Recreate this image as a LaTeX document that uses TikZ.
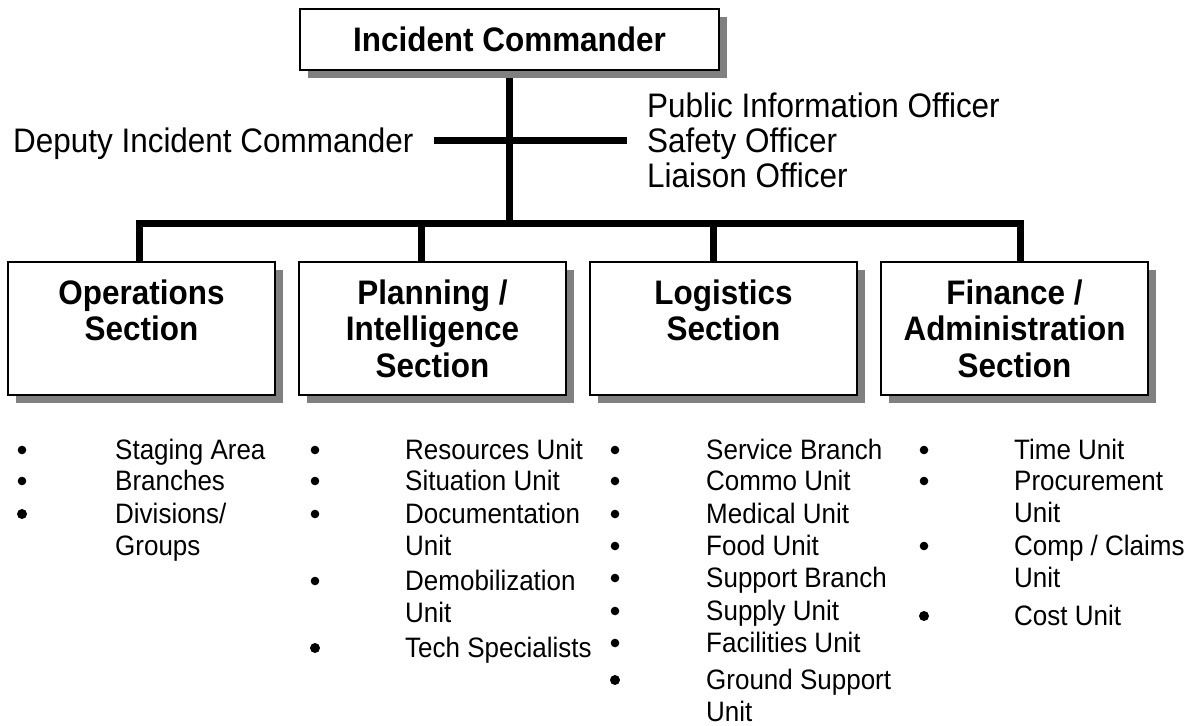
\documentclass[tikz,border=0pt]{standalone}
\usepackage{fontspec}
\setmainfont{Liberation Sans}[FakeStretch=0.925]
\definecolor{shade}{HTML}{808080}
\newcommand\tstrut{\rule{0pt}{22pt}}
\newcommand\sstrut{\rule{0pt}{27pt}}
\begin{document}
\begin{tikzpicture}[x=1pt,y=-1pt,
  conn/.style={line width=7pt, line cap=butt, line join=miter},
  secbox/.style={draw=black, line width=2pt, fill=white, inner sep=0pt,
    preaction={fill=shade, transform canvas={xshift=8pt,yshift=-8pt}}},
  titlefont/.style={font=\fontsize{34}{38}\selectfont\bfseries},
  sectext/.style={font=\fontsize{34}{36.5}\selectfont\bfseries, align=center, anchor=north, inner sep=0pt},
  plaintext/.style={font=\fontsize{34}{38}\selectfont, inner sep=0pt, anchor=base west},
  listitem/.style={font=\fontsize{28.1}{32}\selectfont, align=left, anchor=north west, inner sep=0pt},
  bul/.style={circle, fill=black, draw=none, inner sep=0pt, minimum size=8.6pt},
  bigbul/.style={bul, minimum size=10pt}]
\fill[white] (0,0) rectangle (1190,725);
\useasboundingbox (0,0) rectangle (1190,725);

% connector coordinates
\coordinate (bus) at (509.5,223.5);
\coordinate (d1) at (139,223.5);
\coordinate (d2) at (421,223.5);
\coordinate (d3) at (713,223.5);
\coordinate (d4) at (1020,223.5);
\coordinate (dl) at (434,140);
\coordinate (dr) at (627,140);

% box positions
\path (509.5,39.5) coordinate (icpos);
\path (141.5,328.5) coordinate (opspos);
\path (432.5,328.5) coordinate (planpos);
\path (723.5,328.5) coordinate (logpos);
\path (1014.5,328.5) coordinate (finpos);

% connectors
\draw[conn] (icpos |- 0,69) -- (bus);
\draw[conn] (d1 |- 0,263) -- (d1) -- (d4) -- (d4 |- 0,263);
\draw[conn] (d2) -- (d2 |- 0,263);
\draw[conn] (d3) -- (d3 |- 0,263);
\draw[conn] (dl) -- (dr);

% boxes
\node[secbox, minimum width=419pt, minimum height=61pt, titlefont] (ic) at (icpos) {Incident Commander};
\node[secbox, minimum width=267pt, minimum height=133pt] (ops) at (opspos) {};
\node[secbox, minimum width=267pt, minimum height=133pt] (plan) at (planpos) {};
\node[secbox, minimum width=267pt, minimum height=133pt] (log) at (logpos) {};
\node[secbox, minimum width=267pt, minimum height=133pt] (fin) at (finpos) {};

\node[sectext] (opsT) at (ops.north |- 0,277) {\sstrut Operations\\Section};
\node[sectext] (planT) at (plan.north |- 0,277) {\sstrut Planning /\\Intelligence\\Section};
\node[sectext] (logT) at (log.north |- 0,277) {\sstrut Logistics\\Section};
\node[sectext] (finT) at (fin.north |- 0,277) {\sstrut Finance /\\Administration\\Section};

% staff
\node[plaintext] (dep) at (13,152) {Deputy Incident Commander};
\node[plaintext] (pio) at (647,117) {Public Information Officer};
\node[plaintext] (so) at (647,152) {Safety Officer};
\node[plaintext] (lo) at (647,187) {Liaison Officer};

% Operations list
\node[bul] (ob1) at (22,450) {};
\node[bul] (ob2) at (22,481) {};
\node[bigbul] (ob3) at (22,514) {};
\node[listitem] (ot1) at (115,437) {\tstrut Staging Area};
\node[listitem] (ot2) at (115,468) {\tstrut Branches};
\node[listitem] (ot3) at (115,501) {\tstrut Divisions/\\Groups};

% Planning list
\node[bul] (pb1) at (315,450) {};
\node[bul] (pb2) at (315,481) {};
\node[bul] (pb3) at (315,514) {};
\node[bul] (pb4) at (315,581) {};
\node[bigbul] (pb5) at (315,648) {};
\node[listitem] (pt1) at (405,437) {\tstrut Resources Unit};
\node[listitem] (pt2) at (405,468) {\tstrut Situation Unit};
\node[listitem] (pt3) at (405,501) {\tstrut Documentation\\Unit};
\node[listitem] (pt4) at (405,568) {\tstrut Demobilization\\Unit};
\node[listitem] (pt5) at (405,635) {\tstrut Tech Specialists};

% Logistics list
\node[bul] (lb1) at (615,450) {};
\node[bul] (lb2) at (615,481) {};
\node[bul] (lb3) at (615,514) {};
\node[bul] (lb4) at (615,546) {};
\node[bul] (lb5) at (615,578) {};
\node[bul] (lb6) at (615,611) {};
\node[bul] (lb7) at (615,643) {};
\node[bigbul] (lb8) at (615,680) {};
\node[listitem] (lt1) at (706,437) {\tstrut Service Branch};
\node[listitem] (lt2) at (706,468) {\tstrut Commo Unit};
\node[listitem] (lt3) at (706,501) {\tstrut Medical Unit};
\node[listitem] (lt4) at (706,533) {\tstrut Food Unit};
\node[listitem] (lt5) at (706,565) {\tstrut Support Branch};
\node[listitem] (lt6) at (706,598) {\tstrut Supply Unit};
\node[listitem] (lt7) at (706,630) {\tstrut Facilities Unit};
\node[listitem] (lt8) at (706,667) {\tstrut Ground Support\\Unit};

% Finance list
\node[bul] (fb1) at (924,450) {};
\node[bul] (fb2) at (924,481) {};
\node[bul] (fb3) at (924,546) {};
\node[bigbul] (fb4) at (924,616) {};
\node[listitem] (ft1) at (1014,437) {\tstrut Time Unit};
\node[listitem] (ft2) at (1014,468) {\tstrut Procurement\\Unit};
\node[listitem] (ft3) at (1014,533) {\tstrut Comp / Claims\\Unit};
\node[listitem] (ft4) at (1014,603) {\tstrut Cost Unit};
\end{tikzpicture}
\end{document}
